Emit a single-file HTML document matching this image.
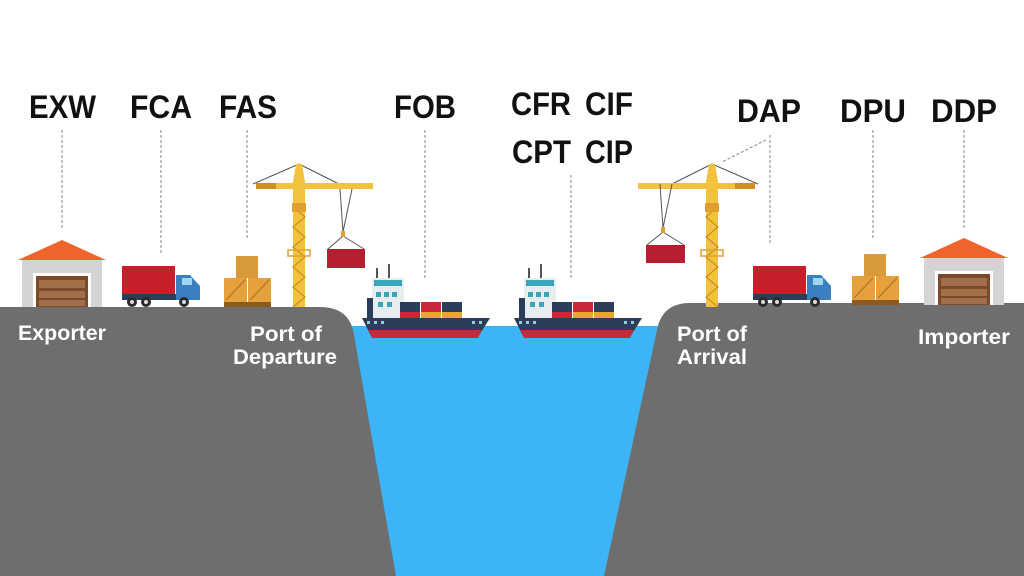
<!DOCTYPE html>
<html><head><meta charset="utf-8"><style>
html,body{margin:0;padding:0;background:#fff;}
svg{display:block;}
.t{font-family:"Liberation Sans",sans-serif;font-weight:bold;font-size:32px;fill:#111;}
.w{font-family:"Liberation Sans",sans-serif;font-weight:bold;font-size:21px;fill:#fff;}
.d{stroke:#999;stroke-width:1.2;stroke-dasharray:3 2;fill:none;}
</style></head><body>
<svg width="1024" height="576" viewBox="0 0 1024 576" xmlns="http://www.w3.org/2000/svg">
<defs>
<g id="ship">
 <rect x="14" y="18" width="2" height="12" fill="#555"/>
 <rect x="26" y="14" width="2" height="16" fill="#555"/>
 <rect x="10" y="28" width="32" height="42" fill="#e8eef0"/>
 <rect x="12" y="30" width="28" height="6" fill="#3aa6b9"/>
 <rect x="14" y="42" width="5" height="5" fill="#3aa6b9"/><rect x="22" y="42" width="5" height="5" fill="#3aa6b9"/><rect x="30" y="42" width="5" height="5" fill="#3aa6b9"/>
 <rect x="16" y="52" width="5" height="5" fill="#3aa6b9"/><rect x="25" y="52" width="5" height="5" fill="#3aa6b9"/>
 <rect x="5" y="48" width="6" height="20" fill="#2b3d5a"/>
 <rect x="38" y="52" width="20" height="10" fill="#2b3d5a"/><rect x="38" y="62" width="20" height="6" fill="#c8283a"/>
 <rect x="59" y="52" width="20" height="10" fill="#c8283a"/><rect x="59" y="62" width="20" height="6" fill="#e8a33a"/>
 <rect x="80" y="52" width="20" height="10" fill="#2b3d5a"/><rect x="80" y="62" width="20" height="6" fill="#e8a33a"/>
 <path d="M0 68 L128 68 L118 84 L8 84 Z" fill="#2b3d5a"/>
 <path d="M6 80 L120 80 L116 88 L10 88 Z" fill="#c8283a"/>
 <rect x="5" y="71" width="3" height="3" fill="#8fd0e0"/><rect x="12" y="71" width="3" height="3" fill="#8fd0e0"/><rect x="19" y="71" width="3" height="3" fill="#8fd0e0"/>
 <rect x="110" y="71" width="3" height="3" fill="#8fd0e0"/><rect x="117" y="71" width="3" height="3" fill="#8fd0e0"/>
</g>
<g id="truck">
 <rect x="0" y="0" width="53" height="28" fill="#c8202a"/>
 <rect x="0" y="28" width="60" height="6" fill="#2b3d5a"/>
 <path d="M54 9 L68 9 L78 20 L78 34 L54 34 Z" fill="#3a7fc0"/>
 <rect x="60" y="12" width="10" height="7" fill="#9fd6ec"/>
 <circle cx="10" cy="36" r="5" fill="#2b2b2b"/><circle cx="10" cy="36" r="2" fill="#ddd"/>
 <circle cx="24" cy="36" r="5" fill="#2b2b2b"/><circle cx="24" cy="36" r="2" fill="#ddd"/>
 <circle cx="62" cy="36" r="5" fill="#2b2b2b"/><circle cx="62" cy="36" r="2" fill="#ddd"/>
</g>
<g id="boxes">
 <rect x="12" y="0" width="22" height="22" fill="#d99a3a"/>
 <rect x="0" y="22" width="23" height="24" fill="#e5a23c"/>
 <rect x="24" y="22" width="23" height="24" fill="#e5a23c"/>
 <path d="M2 44 L21 24 M26 44 L45 24" stroke="#b97b25" stroke-width="1.5"/>
 <rect x="0" y="46" width="47" height="5" fill="#8a5a20"/>
</g>
<g id="house">
 <path d="M0 20 L44 0 L88 20 Z" fill="#f0642c"/>
 <rect x="4" y="20" width="80" height="47" fill="#d4d4d4"/>
 <rect x="15" y="33" width="58" height="34" fill="#fff"/>
 <rect x="18" y="36" width="52" height="31" fill="#7a4a2a"/>
 <rect x="21" y="40" width="46" height="8" fill="#a0704a"/><rect x="21" y="51" width="46" height="7" fill="#a0704a"/><rect x="21" y="60" width="46" height="6" fill="#a0704a"/>
</g>
<g id="crane">
 <path d="M6 2 L-40 22 M6 2 L46 22" stroke="#555" stroke-width="1"/>
 <path d="M0 20 L12 20 L12 145 L0 145 Z" fill="#f2c23e"/>
 <path d="M0 45 L12 55 L0 65 L12 75 L0 85 L12 95 L0 105 L12 115 L0 125 L12 135 L0 145" stroke="#c89020" stroke-width="1.2" fill="none"/>
 <path d="M3 2 L9 2 L12 20 L0 20 Z" fill="#f2c23e"/>
 <rect x="-37" y="21" width="117" height="6" fill="#f2c23e"/>
 <rect x="-37" y="21" width="20" height="6" fill="#d09020"/>
 <rect x="-1" y="41" width="14" height="9" fill="#e0a030"/>
 <rect x="-5" y="88" width="22" height="6" fill="none" stroke="#e0a030" stroke-width="1.5"/>
</g>
</defs>

<path d="M340 326 L670 326 L620 576 L390 576 Z" fill="#3db4f7"/>
<path d="M0 307 L320 307 Q350 307 354 335 L396 576 L0 576 Z" fill="#6e6e6e"/>
<path d="M1024 303 L690 303 Q662 303 657 330 L604 576 L1024 576 Z" fill="#6e6e6e"/>

<text class="t" x="29" y="118" textLength="67" lengthAdjust="spacingAndGlyphs">EXW</text>
<text class="t" x="130" y="118" textLength="62" lengthAdjust="spacingAndGlyphs">FCA</text>
<text class="t" x="219" y="118" textLength="58" lengthAdjust="spacingAndGlyphs">FAS</text>
<text class="t" x="394" y="118" textLength="62" lengthAdjust="spacingAndGlyphs">FOB</text>
<text class="t" x="511" y="115" textLength="60" lengthAdjust="spacingAndGlyphs">CFR</text>
<text class="t" x="585" y="115" textLength="48" lengthAdjust="spacingAndGlyphs">CIF</text>
<text class="t" x="512" y="163" textLength="59" lengthAdjust="spacingAndGlyphs">CPT</text>
<text class="t" x="585" y="163" textLength="48" lengthAdjust="spacingAndGlyphs">CIP</text>
<text class="t" x="737" y="122" textLength="64" lengthAdjust="spacingAndGlyphs">DAP</text>
<text class="t" x="840" y="122" textLength="66" lengthAdjust="spacingAndGlyphs">DPU</text>
<text class="t" x="931" y="122" textLength="66" lengthAdjust="spacingAndGlyphs">DDP</text>

<path class="d" d="M62 130 V230 M161 130 V255 M247 130 V240 M425 130 V278 M571 175 V278 M770 135 V245 M766 140 L722 162 M873 130 V240 M964 130 V230"/>

<use href="#house" x="18" y="240"/>
<use href="#truck" x="122" y="266"/>
<use href="#boxes" x="224" y="256"/>
<use href="#crane" x="293" y="162"/>
<path d="M340 189 L343 232 M352 189 L343 232 M343 236 L328 249 M343 236 L364 249" stroke="#555" stroke-width="1" fill="none"/>
<rect x="341" y="231" width="4" height="6" fill="#e0a030"/>
<rect x="327" y="249" width="38" height="19" fill="#b51f2f"/>
<use href="#ship" x="362" y="250"/>
<use href="#ship" x="514" y="250"/>

<g transform="translate(1419,0) scale(-1,1)">
 <use href="#crane" x="701" y="162"/>
</g>
<path d="M660 184 L663 228 M672 184 L663 228 M663 232 L647 245 M663 232 L684 245" stroke="#555" stroke-width="1" fill="none"/>
<rect x="661" y="227" width="4" height="6" fill="#e0a030"/>
<rect x="646" y="245" width="39" height="18" fill="#b51f2f"/>
<use href="#truck" x="753" y="266"/>
<use href="#boxes" x="852" y="254"/>
<use href="#house" x="920" y="238"/>

<text class="w" x="18" y="340" textLength="88" lengthAdjust="spacingAndGlyphs">Exporter</text>
<text class="w" x="250" y="341" textLength="72" lengthAdjust="spacingAndGlyphs">Port of</text>
<text class="w" x="233" y="364" textLength="104" lengthAdjust="spacingAndGlyphs">Departure</text>
<text class="w" x="677" y="341" textLength="70" lengthAdjust="spacingAndGlyphs">Port of</text>
<text class="w" x="677" y="364" textLength="70" lengthAdjust="spacingAndGlyphs">Arrival</text>
<text class="w" x="918" y="344" textLength="92" lengthAdjust="spacingAndGlyphs">Importer</text>
</svg>
</body></html>
